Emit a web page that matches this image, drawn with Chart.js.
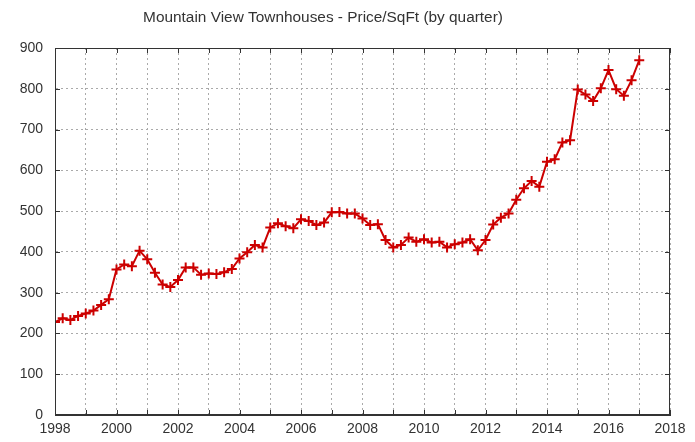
<!DOCTYPE html>
<html>
<head>
<meta charset="utf-8">
<script src="https://cdn.jsdelivr.net/npm/chart.js@4.4.1/dist/chart.umd.min.js"></script>
<style>
  html, body { margin: 0; padding: 0; background: #fff; }
  #wrap { width: 695px; height: 442px; }
</style>
</head>
<body>
<div id="wrap"><canvas id="myChart" width="695" height="442"></canvas></div>
<script>
const chartTitle = "Mountain View Townhouses - Price/SqFt (by quarter)";

// quarter dates
const quarters = [
    1998, 1998.25, 1998.5, 1998.75,
    1999, 1999.25, 1999.5, 1999.75,
    2000, 2000.25, 2000.5, 2000.75,
    2001, 2001.25, 2001.5, 2001.75,
    2002, 2002.25, 2002.5, 2002.75,
    2003, 2003.25, 2003.5, 2003.75,
    2004, 2004.25, 2004.5, 2004.75,
    2005, 2005.25, 2005.5, 2005.75,
    2006, 2006.25, 2006.5, 2006.75,
    2007, 2007.25, 2007.5, 2007.75,
    2008, 2008.25, 2008.5, 2008.75,
    2009, 2009.25, 2009.5, 2009.75,
    2010, 2010.25, 2010.5, 2010.75,
    2011, 2011.25, 2011.5, 2011.75,
    2012, 2012.25, 2012.5, 2012.75,
    2013, 2013.25, 2013.5, 2013.75,
    2014, 2014.25, 2014.5, 2014.75,
    2015, 2015.25, 2015.5, 2015.75,
    2016, 2016.25, 2016.5, 2016.75,
    2017
];

// price per square foot
const pricePerSqFt = [
    228, 237, 233, 243,
    249, 256, 270, 284,
    357, 369, 365, 403,
    382, 349, 320, 314,
    331, 362, 362, 344,
    347, 346, 350, 358,
    384, 399, 417, 411,
    460, 470, 463, 458,
    480, 476, 466, 472,
    497, 498, 494, 494,
    482, 466, 468, 429,
    411, 417, 435, 425,
    431, 423, 425, 411,
    419, 423, 431, 404,
    429, 467, 484, 494,
    528, 556, 574, 560,
    621, 627, 668, 674,
    798, 786, 770, 801,
    846, 799, 783, 821,
    870
];

const xMin = 1998, xMax = 2018;
const yMin = 0, yMax = 900;

const canvas = document.getElementById("myChart");
const fontFamily = "'Liberation Sans', Arial, sans-serif";

const points = quarters.map((q, i) => ({ x: q, y: pricePerSqFt[i] }));

// gnuplot-style frame, inner ticks and title
const framePlugin = {
    id: 'frame',
    afterDraw(chart) {
        const ctx = chart.ctx;
        const a = chart.chartArea;
        const xs = chart.scales.x;
        const ys = chart.scales.y;
        ctx.save();
        ctx.strokeStyle = '#333';
        ctx.lineWidth = 1;
        ctx.strokeRect(a.left + 0.5, a.top + 0.5, a.right - a.left - 1, a.bottom - a.top - 1);
        ctx.beginPath();
        xs.ticks.forEach(t => {
            const px = Math.round(xs.getPixelForValue(t.value)) + 0.5;
            ctx.moveTo(px, a.bottom);
            ctx.lineTo(px, a.bottom - 5);
            ctx.moveTo(px, a.top);
            ctx.lineTo(px, a.top + 5);
        });
        ys.ticks.forEach(t => {
            const py = Math.round(ys.getPixelForValue(t.value)) + 0.5;
            ctx.moveTo(a.left, py);
            ctx.lineTo(a.left + 5, py);
            ctx.moveTo(a.right, py);
            ctx.lineTo(a.right - 5, py);
        });
        ctx.stroke();
        ctx.fillStyle = '#333';
        ctx.font = '15.4px ' + fontFamily;
        ctx.textAlign = 'center';
        ctx.textBaseline = 'middle';
        ctx.fillText(chartTitle, 323, 18);
        ctx.restore();
    }
};

new Chart(canvas.getContext('2d'), {
    type: 'line',
    data: {
        datasets: [{
            data: points,
            borderColor: '#cc0000',
            backgroundColor: '#cc0000',
            borderWidth: 2,
            pointStyle: 'cross',
            pointRadius: 5,
            pointBorderWidth: 2,
            pointBorderColor: '#cc0000',
            tension: 0,
            fill: false
        }]
    },
    options: {
        responsive: false,
        animation: false,
        layout: { padding: { top: 48, right: 25, bottom: 0, left: 0 } },
        plugins: {
            legend: { display: false },
            title: { display: false },
            tooltip: { enabled: false }
        },
        scales: {
            x: {
                type: 'linear',
                min: xMin,
                max: xMax,
                afterFit: s => { s.height = 27; },
                ticks: {
                    stepSize: 1,
                    autoSkip: false,
                    maxRotation: 0,
                    padding: 6,
                    color: '#333',
                    font: { family: fontFamily, size: 14 },
                    callback: v => (v % 2 === 0 ? String(v) : '')
                },
                grid: { color: '#aaa', drawTicks: false },
                border: { color: '#333', dash: [2, 3] }
            },
            y: {
                min: yMin,
                max: yMax,
                afterFit: s => { s.width = 55; },
                ticks: {
                    stepSize: 100,
                    padding: 12,
                    color: '#333',
                    font: { family: fontFamily, size: 14 }
                },
                grid: { color: '#aaa', drawTicks: false },
                border: { color: '#333', dash: [2, 3] }
            }
        }
    },
    plugins: [framePlugin]
});
</script>
</body>
</html>
